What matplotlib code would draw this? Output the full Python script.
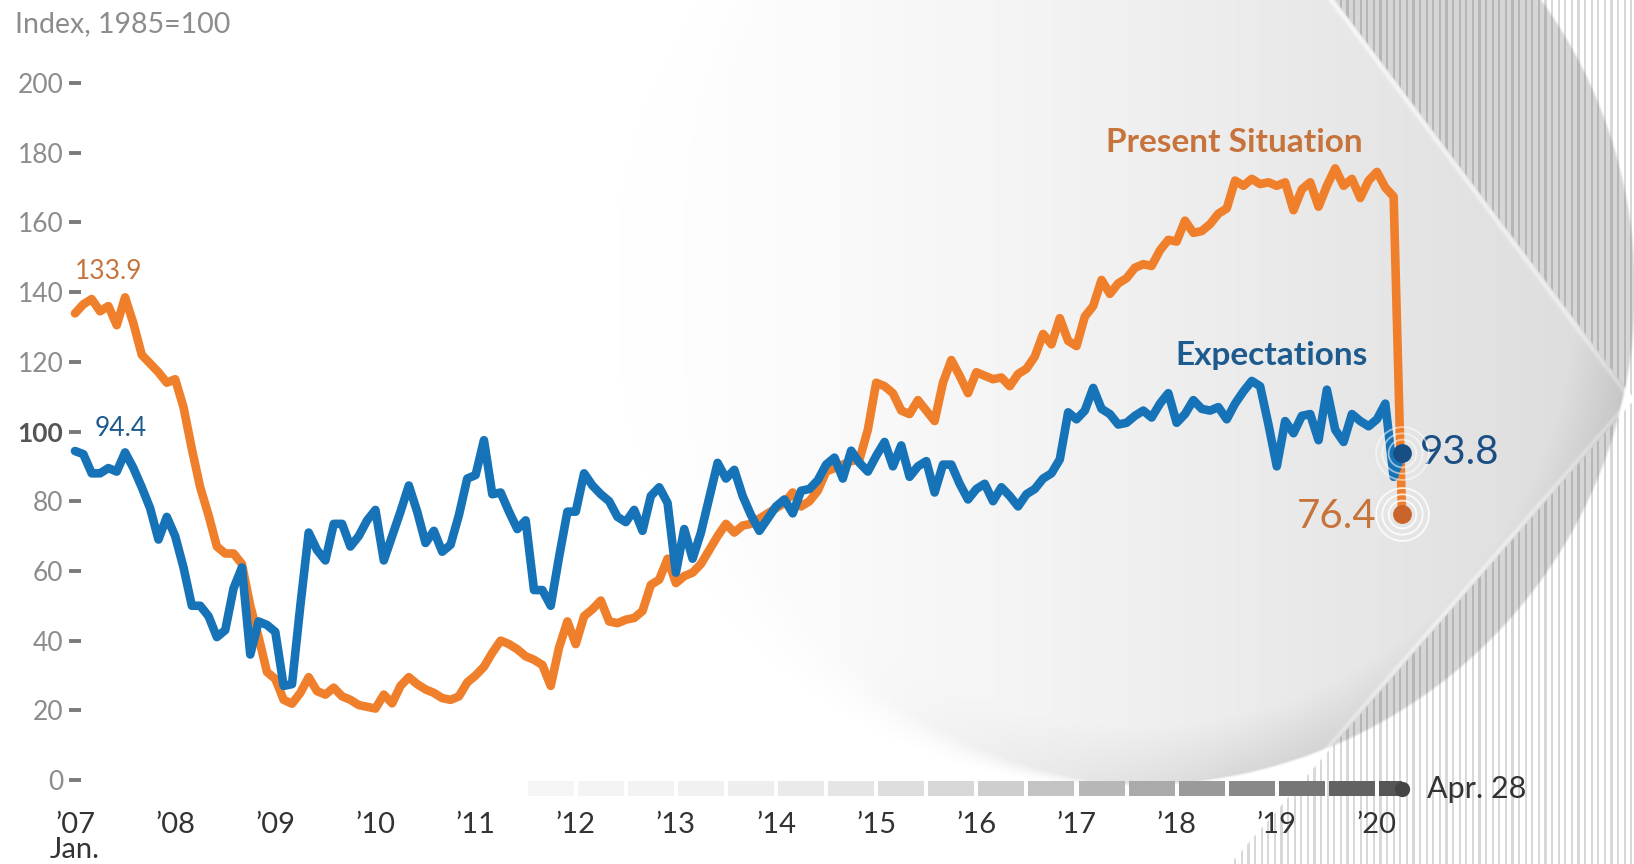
import numpy as np
import matplotlib
matplotlib.use("Agg")
import matplotlib.pyplot as plt

plt.rcParams['font.family'] = ['Lato', 'DejaVu Sans']

# Monthly index values, Jan 2007 .. Apr 2020 (1985=100)
present = [
    133.9, 136.5, 138.0, 134.5, 136.0, 130.5, 138.5, 131.0, 122.0, 119.5, 117.0, 114.0,  # 2007
    115.0, 107.0, 95.0, 84.0, 76.0, 67.0, 65.0, 65.0, 62.0, 50.0, 41.0, 31.0,            # 2008
    29.0, 23.0, 21.9, 25.0, 29.5, 25.5, 24.5, 26.5, 24.0, 23.0, 21.5, 21.0,              # 2009
    20.5, 24.5, 22.0, 27.0, 29.5, 27.5, 26.0, 25.0, 23.5, 23.0, 24.0, 28.0,              # 2010
    30.0, 32.5, 36.5, 40.0, 39.0, 37.5, 35.5, 34.5, 33.0, 27.0, 38.0, 45.5,              # 2011
    39.0, 47.0, 49.0, 51.5, 45.5, 45.0, 46.0, 46.5, 48.5, 56.0, 57.5, 63.5,              # 2012
    56.5, 58.5, 59.5, 62.0, 66.0, 70.0, 73.5, 71.0, 73.0, 73.5, 75.0, 76.5,              # 2013
    78.0, 79.5, 82.5, 78.5, 80.0, 83.0, 88.5, 89.5, 90.5, 91.5, 92.0, 100.5,             # 2014
    114.0, 113.0, 111.0, 106.0, 105.0, 109.0, 106.0, 103.0, 114.0, 120.5, 116.0, 111.0,  # 2015
    117.0, 116.0, 115.0, 115.5, 113.0, 116.5, 118.0, 121.5, 128.0, 125.0, 132.5, 126.0,  # 2016
    124.5, 133.0, 136.0, 143.5, 139.5, 142.5, 144.0, 147.0, 148.0, 147.5, 152.0, 155.0,  # 2017
    154.5, 160.5, 157.0, 157.5, 159.5, 162.5, 164.0, 172.0, 170.5, 172.5, 171.0, 171.5,  # 2018
    170.5, 171.5, 163.5, 169.5, 171.5, 164.5, 170.5, 175.5, 170.5, 172.5, 167.0, 172.0,  # 2019
    174.5, 170.0, 167.4, 76.4,                                                           # 2020
]
expectations = [
    94.4, 93.5, 88.0, 88.0, 89.5, 88.5, 94.0, 89.5, 84.0, 78.0, 69.0, 75.5,              # 2007
    70.0, 61.0, 50.0, 50.0, 47.0, 41.0, 43.0, 55.0, 61.0, 36.0, 45.5, 44.5,              # 2008
    42.5, 27.0, 27.5, 50.0, 71.0, 66.0, 63.0, 73.5, 73.5, 67.0, 70.0, 74.5,              # 2009
    77.5, 63.0, 70.0, 77.0, 84.5, 77.0, 68.0, 71.5, 65.5, 67.5, 76.0, 86.5,              # 2010
    87.5, 97.5, 82.0, 82.5, 77.0, 72.0, 74.5, 54.5, 54.5, 50.0, 64.0, 77.0,              # 2011
    77.0, 88.0, 84.5, 82.0, 80.0, 75.5, 74.0, 77.5, 71.5, 81.5, 84.0, 79.5,              # 2012
    59.5, 72.0, 63.5, 71.0, 81.0, 91.0, 86.5, 89.0, 81.5, 76.0, 71.5, 75.0,              # 2013
    78.5, 80.5, 76.5, 83.0, 83.5, 86.0, 90.5, 92.5, 86.5, 94.5, 91.0, 88.5,              # 2014
    93.0, 97.0, 90.0, 96.0, 87.0, 90.0, 91.5, 82.5, 90.5, 90.5, 85.0, 80.5,              # 2015
    83.5, 85.0, 80.0, 84.0, 81.5, 78.5, 82.0, 83.5, 86.5, 88.0, 92.0, 105.5,             # 2016
    103.5, 106.0, 112.5, 106.5, 105.0, 102.0, 102.5, 104.5, 106.0, 104.0, 108.0, 111.0,  # 2017
    102.5, 105.0, 109.0, 106.5, 106.0, 107.0, 103.5, 108.0, 111.5, 114.5, 113.0, 102.0,  # 2018
    90.0, 103.0, 99.5, 104.5, 105.0, 97.5, 112.0, 100.5, 97.0, 105.0, 103.0, 101.5,      # 2019
    103.5, 108.0, 87.0, 93.8,                                                            # 2020
]

year_labels = ["\u201907\nJan.", "\u201908", "\u201909", "\u201910", "\u201911", "\u201912", "\u201913",
               "\u201914", "\u201915", "\u201916", "\u201917", "\u201918", "\u201919", "\u201920"]
y_ticks = [0, 20, 40, 60, 80, 100, 120, 140, 160, 180, 200]

ORANGE = "#f07f2b"
BLUE = "#1773b8"
ORANGE_TXT = "#c6743c"
BLUE_TXT = "#1d5a8e"

W, H = 1634, 864
fig = plt.figure(figsize=(W / 100, H / 100), dpi=100)

# ---- backdrop: striped field, grey disc and the light chevron ----
bg_ax = fig.add_axes([0, 0, 1, 1], zorder=0)
bg_ax.set_axis_off()
yy, xx = np.mgrid[0:H, 0:W] + 0.5
edge = np.where(yy < 400, 1335 + 0.75 * yy, 1634 - 0.87 * (yy - 400))
right = np.clip((xx - edge) / 2.0 + 0.5, 0, 1)
cx, cy, r = 1140, 290, 495
d = np.hypot(xx - cx, yy - cy)
# the disc rim is crisp on the right and melts into white on the left
soft = 3 + 60 * np.clip((1100 - xx) / 400, 0, 1)
inside = np.clip((r - d) / soft + 0.5, 0, 1)

stripe = np.where((xx % 6.6) < 2.3, 0.85, 1.0)
outer = stripe * (inside * 0.84 + (1 - inside))

chev = 1 - 0.14 * np.clip((xx - 620) / 1000, 0, 1) ** 1.3
rim = np.clip(1 - (r - d) / 60, 0, 1) * inside
chev = chev - 0.08 * rim * np.clip((xx - 850) / 400, 0, 1)
shine = 0.06 * np.exp(-((xx - edge + 4) ** 2) / 8.0)
chev = np.clip(chev + shine, 0, 1)
left = inside * chev + (1 - inside)

bg = right * outer + (1 - right) * left
bg_ax.imshow(np.dstack([bg, bg, bg]), extent=[0, W, H, 0], interpolation="none", aspect="auto")
bg_ax.set_xlim(0, W)
bg_ax.set_ylim(H, 0)

# ---- chart ----
px_year = 100.15
px_unit = 3.485
ax = fig.add_axes([75 / W, (H - 780) / H, (W - 75) / W, 780 / H], zorder=1)
ax.patch.set_visible(False)
ax.set_xlim(2007, 2007 + (W - 75) / px_year)
ax.set_ylim(0, 780 / px_unit)
for s in ax.spines.values():
    s.set_visible(False)

months = np.arange(len(present))
x = 2007 + months / 12

ax.plot(x, present, color=ORANGE, lw=6.2, solid_joinstyle="round", solid_capstyle="round",
        clip_on=False, zorder=3)
ax.plot(x, expectations, color=BLUE, lw=6.2, solid_joinstyle="round", solid_capstyle="round",
        clip_on=False, zorder=4)

# ripples and end dots
for ms in (20, 29, 38):
    ax.plot(x[-1], present[-1], "o", ms=ms, mfc="none", mec="white", mew=1.3, alpha=0.85,
            clip_on=False, zorder=5)
    ax.plot(x[-1], expectations[-1], "o", ms=ms, mfc="none", mec="white", mew=1.3, alpha=0.55,
            clip_on=False, zorder=5)
ax.plot(x[-1], present[-1], "o", ms=12.5, color="#c9652b", clip_on=False, zorder=6)
ax.plot(x[-1], expectations[-1], "o", ms=12.5, color="#174f84", clip_on=False, zorder=6)

# y axis
ax.set_yticks(y_ticks)
ax.set_yticklabels([str(v) for v in y_ticks])
ax.tick_params(axis="y", direction="inout", length=8.6, width=2.8, color="#7a7a7a",
               pad=4, labelsize=19, labelcolor="#8c8c8c")
for lbl in ax.get_yticklabels():
    if lbl.get_text() == "100":
        lbl.set_fontweight("bold")
        lbl.set_color("#555555")

# x axis
ax.set_xticks(np.arange(2007, 2021))
ax.set_xticklabels(year_labels, linespacing=0.95)
ax.tick_params(axis="x", length=0, pad=23, labelsize=21, labelcolor="#333333")

# time bar along the bottom
bar_lo, bar_hi = -4.6, -0.4
edges = np.arange(2011.5, 2020.01, 0.5)
for a, b in zip(edges[:-1], edges[1:]):
    t = (b - 2011.5) / 8.75
    g = 0.96 - 0.62 * t ** 2.5
    ax.fill_between([a + 0.02, b - 0.02], bar_lo, bar_hi, color=(g, g, g), lw=0,
                    clip_on=False, zorder=2)
ax.fill_between([2020.02, x[-1]], bar_lo, bar_hi, color="#555555", lw=0, clip_on=False, zorder=2)
ax.plot(x[-1], (bar_lo + bar_hi) / 2, "o", ms=10, color="#444444", clip_on=False, zorder=2)
ax.text(2020.5, -2.6, "Apr. 28", fontsize=22, color="#333333", ha="left", va="center")

# labels
fig.text(15 / W, 1 - 24 / H, "Index, 1985=100", fontsize=20.5, color="#8c8c8c", ha="left", va="center")
ax.text(2007.0, 145.8, "133.9", fontsize=19, color=ORANGE_TXT, ha="left", va="center")
ax.text(2007.2, 101.0, "94.4", fontsize=19, color=BLUE_TXT, ha="left", va="center")
ax.text(2018.58, 182.8, "Present Situation", fontsize=24, fontweight="bold", color=ORANGE_TXT,
        ha="center", va="center")
ax.text(2018.95, 121.7, "Expectations", fontsize=24, fontweight="bold", color=BLUE_TXT,
        ha="center", va="center")
ax.text(2020.43, 94.1, "93.8", fontsize=29, color="#1b4f84", ha="left", va="center")
ax.text(2020.0, 75.5, "76.4", fontsize=29, color=ORANGE_TXT, ha="right", va="center")

fig.savefig("out.png", dpi=100)
